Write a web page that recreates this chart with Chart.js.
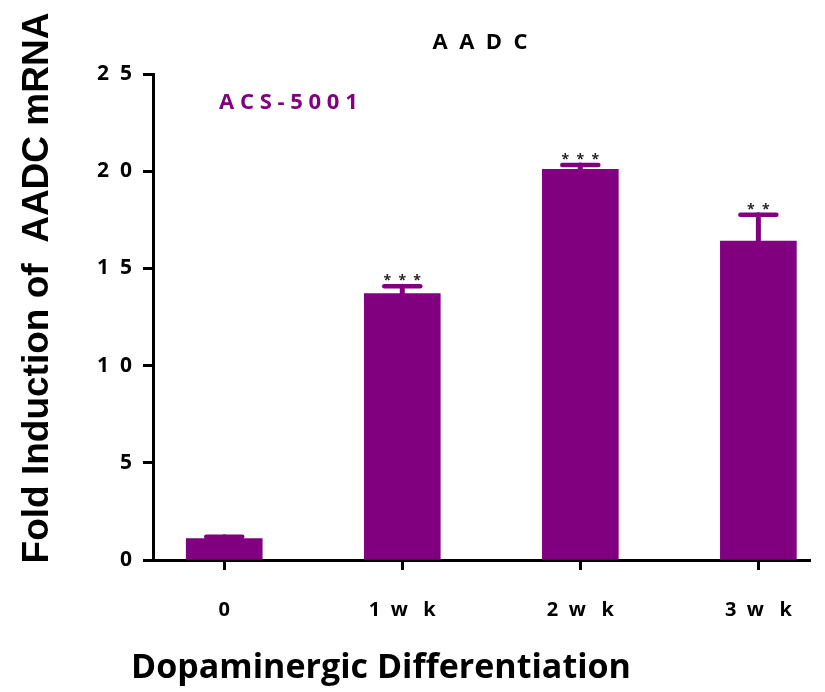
<!DOCTYPE html>
<html lang="en">
<head>
  <meta charset="UTF-8">
  <title>AADC</title>
  <script src="https://cdn.jsdelivr.net/npm/chart.js"></script>
  <style>
    html, body { margin: 0; padding: 0; background: #fff; }
    #wrap { width: 825px; height: 692px; }
  </style>
</head>
<body>
  <div id="wrap"><canvas id="aadcChart" width="825" height="692"></canvas></div>

  <script>
    // Fold induction of AADC mRNA over the differentiation time course
    const groups = ['0', '1  w   k', '2  w   k', '3  w   k'];
    const means = [1.1, 13.7, 20.1, 16.4];
    const sems = [0.1, 0.38, 0.22, 1.36];
    const stars = ['', '*  *  *', '*  *  *', '*  *'];
    const yTicks = [0, 5, 10, 15, 20, 25];

    const purple = '#800080';

    // error bars (upper half only) plus significance stars
    const errorBars = {
      id: 'errorBars',
      afterDatasetsDraw(chart) {
        const { ctx, scales: { x, y } } = chart;
        ctx.save();
        ctx.strokeStyle = purple;
        ctx.lineCap = 'round';
        means.forEach((m, i) => {
          const px = x.getPixelForValue(i);
          const top = y.getPixelForValue(m + sems[i]);
          const base = y.getPixelForValue(m);
          ctx.lineWidth = 5;
          ctx.beginPath();
          ctx.moveTo(px, base);
          ctx.lineTo(px, top);
          ctx.stroke();
          ctx.lineWidth = 4.5;
          ctx.beginPath();
          ctx.moveTo(px - 18, top);
          ctx.lineTo(px + 18, top);
          ctx.stroke();
          if (stars[i]) {
            ctx.fillStyle = '#222';
            ctx.font = 'bold 14px "Open Sans"';
            ctx.textAlign = 'center';
            ctx.textBaseline = 'alphabetic';
            ctx.fillText(stars[i], px, top - 1);
          }
        });
        ctx.restore();
      }
    };

    // titles and the in-plot label
    const textLayer = {
      id: 'textLayer',
      afterDraw(chart) {
        const ctx = chart.ctx;
        ctx.save();
        ctx.textAlign = 'center';
        ctx.textBaseline = 'middle';

        ctx.fillStyle = '#000';
        ctx.font = 'bold 22px "Open Sans"';
        ctx.fillText('A  A  D  C', 480, 43);

        ctx.fillStyle = purple;
        ctx.font = 'bold 22px "Open Sans"';
        ctx.textAlign = 'left';
        ctx.fillText('A C S - 5 0 0 1', 219, 103);

        ctx.fillStyle = '#000';
        ctx.textAlign = 'center';
        ctx.font = 'bold 34px "Open Sans"';
        ctx.fillText('Dopaminergic Differentiation', 381, 668);

        ctx.translate(38, 288);
        ctx.rotate(-Math.PI / 2);
        ctx.font = 'bold 37px "Liberation Sans"';
        ctx.fillText('Fold Induction of  AADC mRNA', 0, 0);
        ctx.restore();
      }
    };

    const ctx = document.getElementById('aadcChart').getContext('2d');
    new Chart(ctx, {
      type: 'bar',
      data: {
        datasets: [{
          data: means.map((m, i) => ({ x: i, y: m })),
          backgroundColor: purple,
          borderWidth: 0,
          barThickness: 76
        }]
      },
      options: {
        responsive: false,
        animation: false,
        layout: { padding: { left: 0, top: 74, right: 15, bottom: 0 } },
        plugins: {
          legend: { display: false },
          tooltip: { enabled: false }
        },
        scales: {
          x: {
            type: 'linear',
            offset: false,
            min: -0.4,
            max: 3.29,
            afterBuildTicks(scale) {
              scale.ticks = groups.map((g, i) => ({ value: i }));
            },
            afterFit(scale) {
              scale.height = 132;
              scale.paddingLeft = 0;
              scale.paddingRight = 0;
            },
            border: { color: '#000', width: 3 },
            grid: {
              offset: false,
              drawOnChartArea: false,
              color: '#000',
              tickLength: 10,
              tickWidth: 3
            },
            ticks: {
              padding: 28,
              maxRotation: 0,
              color: '#000',
              font: { family: 'Open Sans', size: 20, weight: 'bold' },
              callback: (v) => groups[v]
            }
          },
          y: {
            min: 0,
            max: 25,
            afterBuildTicks(scale) {
              scale.ticks = yTicks.map(v => ({ value: v }));
            },
            afterFit(scale) {
              scale.width = 153;
              scale.paddingTop = 0;
              scale.paddingBottom = 0;
            },
            border: { color: '#000', width: 3 },
            grid: {
              drawOnChartArea: false,
              color: '#000',
              tickLength: 10,
              tickWidth: 3
            },
            ticks: {
              padding: 11,
              color: '#000',
              font: { family: 'Open Sans', size: 21, weight: 'bold' },
              callback: (v) => String(v).split('').join('  ')
            }
          }
        }
      },
      plugins: [errorBars, textLayer]
    });
  </script>
</body>
</html>
